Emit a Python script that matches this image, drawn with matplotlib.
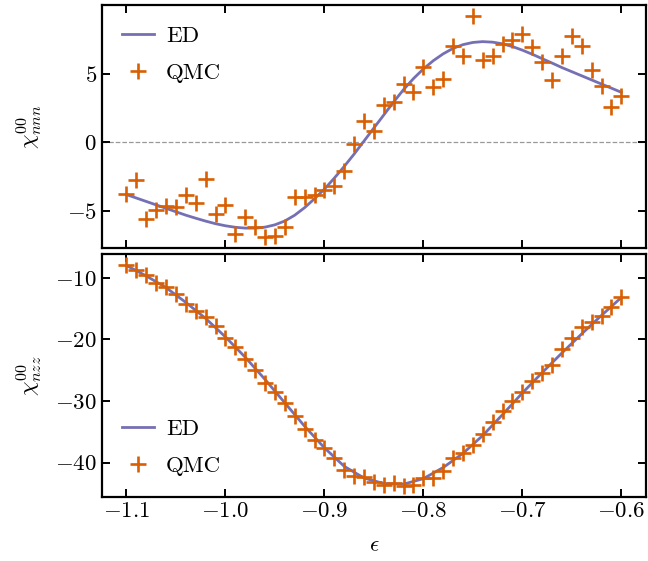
import matplotlib
matplotlib.use("Agg")
import matplotlib.pyplot as plt
import numpy as np

plt.rcParams["font.family"] = "serif"
plt.rcParams["font.serif"] = ["cmr10", "DejaVu Serif"]
plt.rcParams["mathtext.fontset"] = "cm"
plt.rcParams["axes.formatter.use_mathtext"] = True
plt.rcParams["font.size"] = 16.5

ED_C = "#7570b3"
QMC_C = "#d95f02"

# QMC points, eps = -1.10 ... -0.60 step 0.01
eps_qmc = np.round(np.arange(-1.10, -0.595, 0.01), 2)
chi_nnn_qmc = [
    -3.72, -2.75, -5.6, -4.93, -4.64, -4.69, -3.84, -4.44, -2.68, -5.22,
    -4.57, -6.67, -5.46, -6.18, -6.86, -6.81, -6.14, -3.96, -3.96, -3.8,
    -3.48, -3.15, -2.05, -0.1, 1.57, 0.8, 2.75, 2.95, 4.22, 3.67,
    5.46, 4.0, 4.6, 7.03, 6.3, 9.2, 5.99, 6.3, 7.15, 7.44,
    7.88, 6.96, 5.89, 4.54, 6.3, 7.75, 7.03, 5.27, 4.13, 2.56,
    3.4,
]
chi_nzz_qmc = [
    -8.0, -8.8, -9.6, -10.9, -11.5, -12.6, -14.2, -15.4, -16.4, -17.9,
    -19.7, -21.3, -23.2, -25.0, -27.0, -28.6, -30.3, -32.5, -34.6, -36.3,
    -37.6, -39.3, -41.2, -42.1, -42.3, -43.1, -43.6, -43.3, -43.8, -43.6,
    -42.5, -42.5, -41.4, -39.3, -38.5, -37.1, -35.3, -33.4, -31.6, -30.0,
    -28.6, -26.8, -25.4, -24.2, -21.6, -19.8, -18.0, -17.1, -16.2, -14.8,
    -13.1,
]

# ED curves
eps_ed_nnn = np.round(np.arange(-1.10, -0.595, 0.01), 2)
chi_nnn_ed = [
    -3.8, -4.05, -4.3, -4.55, -4.8, -5.05, -5.3, -5.52, -5.73, -5.92,
    -6.07, -6.18, -6.24, -6.24, -6.17, -6.0, -5.72, -5.3, -4.75, -4.1,
    -3.4, -2.6, -1.75, -0.85, 0.1, 1.05, 2.0, 2.95, 3.85, 4.65,
    5.35, 5.95, 6.45, 6.85, 7.12, 7.28, 7.34, 7.3, 7.18, 6.98,
    6.72, 6.42, 6.1, 5.78, 5.45, 5.15, 4.85, 4.55, 4.25, 3.95,
    3.65,
]
eps_ed_nzz = np.round(np.arange(-1.10, -0.595, 0.02), 2)
chi_nzz_ed = [
    -8.0, -9.7, -11.6, -14.0, -16.6, -19.6, -22.9, -26.5, -30.3, -34.1,
    -37.6, -40.6, -42.5, -43.4, -43.5, -42.6, -40.8, -38.5, -35.6, -32.2,
    -28.7, -25.4, -22.2, -19.1, -16.1, -13.2,
]

fig, (ax1, ax2) = plt.subplots(2, 1, sharex=True, figsize=(6.48, 5.61), dpi=100)
fig.subplots_adjust(left=0.157, right=0.997, top=0.991, bottom=0.114, hspace=0.028)

for ax, xe, ed, qmc in ((ax1, eps_ed_nnn, chi_nnn_ed, chi_nnn_qmc),
                        (ax2, eps_ed_nzz, chi_nzz_ed, chi_nzz_qmc)):
    ax.plot(xe, ed, color=ED_C, lw=2.0, label="ED", zorder=2)
    ax.plot(eps_qmc, qmc, "+", color=QMC_C, ms=12, mew=1.9, label="QMC", zorder=3)
    ax.tick_params(direction="in", top=True, right=True, length=6, width=1.4)
    for s in ax.spines.values():
        s.set_linewidth(1.6)

ax1.axhline(0, color="#999999", lw=0.9, ls="--", zorder=1)
ax1.set_yticks([-5, 0, 5])
ax2.set_yticks([-10, -20, -30, -40])
ax2.set_xticks([-1.1, -1.0, -0.9, -0.8, -0.7, -0.6])
ax2.set_xticklabels([r"$-1.1$", r"$-1.0$", r"$-0.9$", r"$-0.8$", r"$-0.7$", r"$-0.6$"])

ax1.set_ylabel(r"$\chi^{00}_{nnn}$")
ax2.set_ylabel(r"$\chi^{00}_{nzz}$")
ax2.set_xlabel(r"$\epsilon$", labelpad=10)
ax1.yaxis.set_label_coords(-0.105, 0.5)
ax2.yaxis.set_label_coords(-0.105, 0.5)

leg_kw = dict(frameon=False, handlelength=1.4, handletextpad=0.5, labelspacing=0.75)
ax1.legend(loc="upper left", **leg_kw)
ax2.legend(loc="lower left", **leg_kw)

fig.savefig("out.png", dpi=100)
